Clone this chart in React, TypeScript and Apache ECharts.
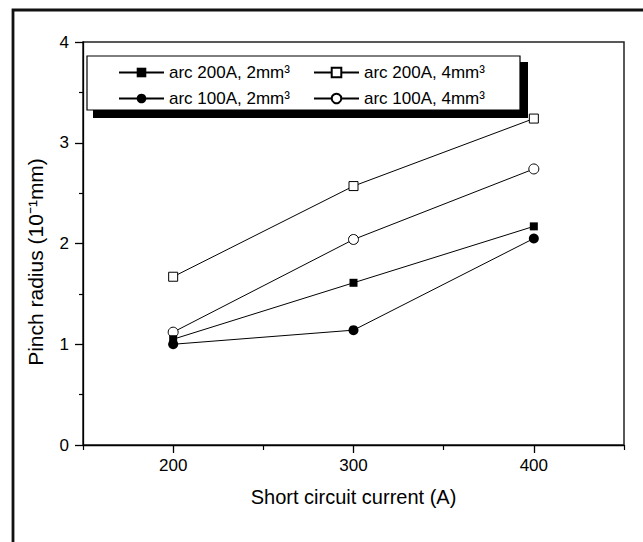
import React, { useEffect, useRef } from "react";
import * as echarts from "echarts";

const currents = [200, 300, 400];
const arc200mm2 = [1.05, 1.61, 2.17];
const arc100mm2 = [1.0, 1.14, 2.05];
const arc200mm4 = [1.67, 2.57, 3.24];
const arc100mm4 = [1.12, 2.04, 2.74];
const seriesNames = ["arc 200A, 2mm³", "arc 200A, 4mm³", "arc 100A, 2mm³", "arc 100A, 4mm³"];
const xLabelValues = [200, 300, 400];
const xMinorValues = [150, 250, 350, 450];
const xTitle = "Short circuit current (A)";
const yTitle = "Pinch radius (10⁻¹mm)";

const FONT = "'Liberation Sans', Arial, sans-serif";

function pairs(ys: number[]) {
  return currents.map((x, i) => [x, ys[i]]);
}

export default function App() {
  const ref = useRef<HTMLDivElement>(null);
  useEffect(() => {
    if (!ref.current) return;
    const chart = echarts.init(ref.current, null, { renderer: "svg" });
    const black = "#000";
    const lineStyle = { color: black, width: 1 };
    const mk = (name: string, ys: number[], symbol: string, size: number, filled: boolean, z: number) => ({
      name,
      type: "line",
      data: pairs(ys),
      symbol,
      symbolSize: size,
      showSymbol: true,
      lineStyle,
      itemStyle: filled
        ? { color: black, borderColor: black, borderWidth: 0 }
        : { color: "#fff", borderColor: black, borderWidth: 1 },
      emphasis: { disabled: true },
      z,
    });
    const legendPos = [
      { left: 118, top: 64 },
      { left: 313, top: 64 },
      { left: 118, top: 90 },
      { left: 313, top: 90 },
    ];
    chart.setOption({
      animation: false,
      backgroundColor: "#fff",
      textStyle: { fontFamily: FONT },
      grid: {
        left: 83,
        top: 42,
        right: 19,
        bottom: 97,
        show: true,
        borderColor: "#222",
        borderWidth: 1.5,
        backgroundColor: "transparent",
      },
      xAxis: [
        {
          type: "value",
          min: 150,
          max: 450,
          interval: 50,
          axisLine: { show: true, onZero: false, lineStyle: { color: black, width: 1.3 } },
          axisTick: { show: true, customValues: xLabelValues, length: 8, lineStyle: { color: black, width: 1.3 } },
          axisLabel: { customValues: xLabelValues, fontSize: 17, color: black, margin: 12, fontFamily: FONT },
          splitLine: { show: false },
          name: xTitle,
          nameLocation: "middle",
          nameGap: 42,
          nameTextStyle: { fontSize: 20, color: black, fontFamily: FONT },
        },
        {
          type: "value",
          position: "bottom",
          min: 150,
          max: 450,
          interval: 50,
          axisLine: { show: false },
          axisTick: { show: true, customValues: xMinorValues, length: 5, lineStyle: { color: black, width: 1.2 } },
          axisLabel: { show: false },
          splitLine: { show: false },
        },
      ],
      yAxis: {
        type: "value",
        min: 0,
        max: 4,
        interval: 1,
        axisLine: { show: true, lineStyle: { color: black, width: 1.3 } },
        axisTick: { show: true, length: 8, lineStyle: { color: black, width: 1.3 } },
        minorTick: { show: true, splitNumber: 2, length: 4, lineStyle: { color: black, width: 1.2 } },
        axisLabel: { fontSize: 17, color: black, margin: 14, fontFamily: FONT },
        splitLine: { show: false },
        name: yTitle,
        nameLocation: "middle",
        nameGap: 37,
        nameTextStyle: { fontSize: 21, color: black, fontFamily: FONT, padding: [0, 37, 0, 0] },
      },
      legend: seriesNames.map((name, i) => ({
        data: [name],
        left: legendPos[i].left,
        top: legendPos[i].top,
        padding: 0,
        itemWidth: 45,
        itemHeight: 12,
        itemGap: 0,
        selectedMode: false,
        textStyle: { fontSize: 17, color: black, fontFamily: FONT },
        z: 10,
      })),
      graphic: [
        { type: "rect", shape: { x: 13, y: 10, width: 700, height: 600 }, style: { fill: "none", stroke: "#111", lineWidth: 2.8 }, z: 0 },
        { type: "rect", shape: { x: 93, y: 62, width: 435, height: 56 }, style: { fill: "#000" }, z: 5 },
        { type: "rect", shape: { x: 87, y: 56, width: 433, height: 54 }, style: { fill: "#fff", stroke: "#000", lineWidth: 1.2 }, z: 6 },
      ],
      series: [
        mk(seriesNames[3], arc100mm4, "circle", 10, false, 2),
        mk(seriesNames[1], arc200mm4, "rect", 9, false, 2),
        mk(seriesNames[0], arc200mm2, "rect", 8, true, 3),
        mk(seriesNames[2], arc100mm2, "circle", 10, true, 3),
      ],
    });
    return () => chart.dispose();
  }, []);
  return (
    <div
      ref={ref}
      style={{ position: "fixed", left: 0, top: 0, width: 643, height: 542, background: "#fff" }}
    />
  );
}
